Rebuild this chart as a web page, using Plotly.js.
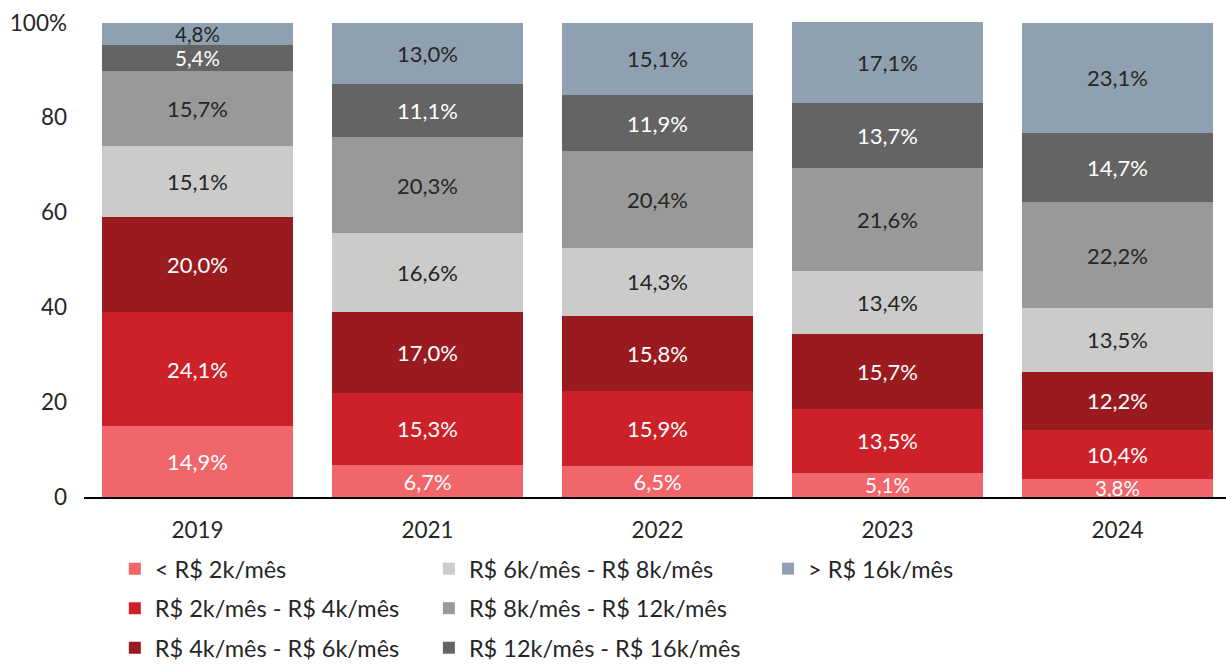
<!DOCTYPE html>
<html>
<head>
<meta charset="utf-8">
<script src="https://cdn.plot.ly/plotly-3.0.1.min.js"></script>
<style>
  body { margin: 0; background: #fff; }
  #grafico { width: 1226px; height: 665px; }
</style>
</head>
<body>
<div id="grafico"></div>
<script>
var anos = ['2019', '2021', '2022', '2023', '2024'];

var faixas = [
    '< R$ 2k/mês',
    'R$ 2k/mês - R$ 4k/mês',
    'R$ 4k/mês - R$ 6k/mês',
    'R$ 6k/mês - R$ 8k/mês',
    'R$ 8k/mês - R$ 12k/mês',
    'R$ 12k/mês - R$ 16k/mês',
    '> R$ 16k/mês'
];

// percentuais por faixa de renda, na ordem dos anos
var ate2k    = [14.9, 6.7, 6.5, 5.1, 3.8];
var de2a4k   = [24.1, 15.3, 15.9, 13.5, 10.4];
var de4a6k   = [20.0, 17.0, 15.8, 15.7, 12.2];
var de6a8k   = [15.1, 16.6, 14.3, 13.4, 13.5];
var de8a12k  = [15.7, 20.3, 20.4, 21.6, 22.2];
var de12a16k = [5.4, 11.1, 11.9, 13.7, 14.7];
var acima16k = [4.8, 13.0, 15.1, 17.1, 23.1];

var valores = [ate2k, de2a4k, de4a6k, de6a8k, de8a12k, de12a16k, acima16k];

var cores = ['#F1666A', '#CC2128', '#9A1B1F', '#CBCBCA', '#999999', '#646464', '#8FA1B0'];
var coresTexto = ['#ffffff', '#ffffff', '#ffffff', '#262626', '#262626', '#ffffff', '#262626'];
var legendas = ['legend', 'legend', 'legend', 'legend2', 'legend2', 'legend2', 'legend3'];

var fonte = 'Lato, Carlito, Calibri, sans-serif';

// fatias muito finas ficam com o rotulo um pouco menor pra nao encostar no vizinho
function tamanhos(lista) {
    return lista.map(function(v) { return v < 6 ? 20.5 : 22; });
}

var dados = [];
for (var i = 0; i < faixas.length; i++) {
    dados.push({
        type: 'bar',
        x: anos,
        y: valores[i],
        name: faixas[i],
        legend: legendas[i],
        legendgroup: 'g' + i,
        marker: { color: cores[i], line: { width: 0 } },
        texttemplate: '%{y:.1f}%',
        textposition: 'inside',
        insidetextanchor: 'middle',
        textangle: 0,
        constraintext: 'none',
        cliponaxis: false,
        textfont: { family: fonte, size: tamanhos(valores[i]), color: coresTexto[i] },
        hoverinfo: 'skip'
    });
}

function legendaEm(x) {
    return {
        orientation: 'v',
        x: x,
        xanchor: 'left',
        y: -0.105,
        yanchor: 'top',
        traceorder: 'grouped',
        tracegroupgap: 6,
        bgcolor: 'rgba(0,0,0,0)',
        font: { family: fonte, size: 23.5, color: '#262626' }
    };
}

var layout = {
    width: 1226,
    height: 665,
    // sem autoexpand para a legenda nao empurrar a area do grafico
    margin: { l: 84, r: 0, t: 22, b: 168, autoexpand: false },
    paper_bgcolor: '#ffffff',
    plot_bgcolor: '#ffffff',
    barmode: 'stack',
    bargap: 0.17,
    separators: ',.',
    font: { family: fonte, size: 22, color: '#262626' },
    showlegend: true,
    legend: legendaEm(0.027),
    legend2: legendaEm(0.302),
    legend3: legendaEm(0.599),
    xaxis: {
        type: 'category',
        range: [-0.4935, 4.4717],
        showline: true,
        linecolor: '#000000',
        linewidth: 2,
        showgrid: false,
        zeroline: false,
        ticks: '',
        ticklabelstandoff: 12,
        tickfont: { family: fonte, size: 22.5, color: '#262626' }
    },
    yaxis: {
        range: [0, 100.15],
        tickvals: [0, 20, 40, 60, 80, 100],
        ticktext: ['0', '20', '40', '60', '80', '100%'],
        showline: false,
        showgrid: false,
        zeroline: false,
        ticks: '',
        ticklabelstandoff: 16,
        tickfont: { family: fonte, size: 22.5, color: '#262626' }
    }
};

Plotly.newPlot('grafico', dados, layout, { displayModeBar: false, staticPlot: true });
</script>
</body>
</html>
